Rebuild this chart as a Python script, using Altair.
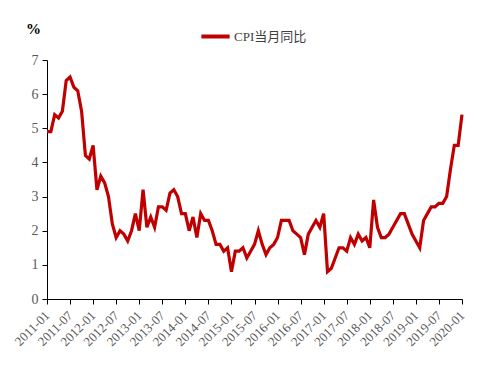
import altair as alt
import pandas as pd

years = [2011, 2012, 2013, 2014, 2015, 2016, 2017, 2018, 2019, 2020]
cpi_2011 = [4.9, 4.9, 5.4, 5.3, 5.5, 6.4, 6.5, 6.2, 6.1, 5.5, 4.2, 4.1]
cpi_2012 = [4.5, 3.2, 3.6, 3.4, 3.0, 2.2, 1.8, 2.0, 1.9, 1.7, 2.0, 2.5]
cpi_2013 = [2.0, 3.2, 2.1, 2.4, 2.1, 2.7, 2.7, 2.6, 3.1, 3.2, 3.0, 2.5]
cpi_2014 = [2.5, 2.0, 2.4, 1.8, 2.5, 2.3, 2.3, 2.0, 1.6, 1.6, 1.4, 1.5]
cpi_2015 = [0.8, 1.4, 1.4, 1.5, 1.2, 1.4, 1.6, 2.0, 1.6, 1.3, 1.5, 1.6]
cpi_2016 = [1.8, 2.3, 2.3, 2.3, 2.0, 1.9, 1.8, 1.3, 1.9, 2.1, 2.3, 2.1]
cpi_2017 = [2.5, 0.8, 0.9, 1.2, 1.5, 1.5, 1.4, 1.8, 1.6, 1.9, 1.7, 1.8]
cpi_2018 = [1.5, 2.9, 2.1, 1.8, 1.8, 1.9, 2.1, 2.3, 2.5, 2.5, 2.2, 1.9]
cpi_2019 = [1.7, 1.5, 2.3, 2.5, 2.7, 2.7, 2.8, 2.8, 3.0, 3.8, 4.5, 4.5]
cpi_2020 = [5.4]

series = [cpi_2011, cpi_2012, cpi_2013, cpi_2014, cpi_2015,
          cpi_2016, cpi_2017, cpi_2018, cpi_2019, cpi_2020]

rows = []
for y, vals in zip(years, series):
    for m, v in enumerate(vals):
        rows.append({"idx": (y - 2011) * 12 + m, "label": f"{y}-{m+1:02d}",
                     "value": v, "series": "CPI当月同比"})
df = pd.DataFrame(rows)

tick_idx = list(range(0, 109, 6))
label_expr = ("toString(2011 + floor(datum.value / 12)) + '-' + "
              "(datum.value % 12 < 9 ? '0' : '') + toString(datum.value % 12 + 1)")

serif = "Liberation Serif, Times New Roman, Noto Sans CJK SC, serif"

chart = alt.Chart(df).mark_line(strokeWidth=3.2, color="#C00000").encode(
    x=alt.X("idx:Q",
            scale=alt.Scale(domain=[0, 108], nice=False, zero=False),
            axis=alt.Axis(values=tick_idx, labelExpr=label_expr, labelOverlap=False,
                          labelAngle=-45, labelAlign="right", labelBaseline="middle",
                          labelFont=serif, labelFontSize=13, labelColor="#595959",
                          domainColor="#000000", tickColor="#000000", tickSize=5,
                          grid=False, title=None, labelPadding=9)),
    y=alt.Y("value:Q",
            scale=alt.Scale(domain=[0, 7]),
            axis=alt.Axis(values=[0, 1, 2, 3, 4, 5, 6, 7],
                          labelFont=serif, labelFontSize=14, labelColor="#595959",
                          domainColor="#000000", tickColor="#000000", tickSize=5,
                          grid=False, title="%", titleAngle=0, titleFont=serif,
                          titleFontSize=15, titleFontWeight="bold", titleColor="#000000",
                          titleX=-14, titleY=-24, titleAlign="center", labelPadding=4)),
    stroke=alt.Stroke("series:N",
                      scale=alt.Scale(range=["#C00000"]),
                      legend=alt.Legend(title=None, orient="none", legendX=152, legendY=-40,
                                        symbolType="stroke", symbolStrokeWidth=4,
                                        symbolSize=800, labelFont=serif,
                                        labelFontSize=13, labelColor="#404040",
                                        labelOffset=2)),
).properties(
    width=415, height=239,
    autosize=alt.AutoSizeParams(type="none"),
    padding={"left": 39, "top": 52, "right": 20, "bottom": 60},
).configure_view(stroke=None)

chart.save("out.html", embed_options={"renderer": "svg", "actions": False})
